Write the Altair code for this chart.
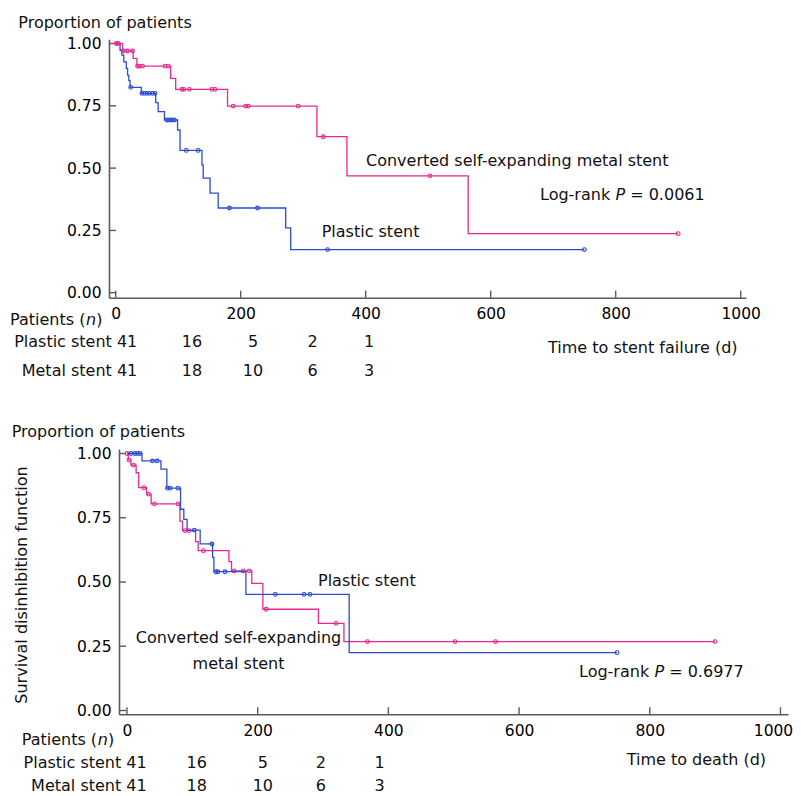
import altair as alt
import pandas as pd
import numpy as np

# ---------------- data ----------------
# Top panel: time to stent failure
ps_fail_t = [0, 7, 10, 13, 17, 19, 21, 23, 41, 64, 68, 78, 99, 103, 138, 140, 151, 164, 272, 280]
ps_fail_s = [1.0, 0.973, 0.953, 0.926, 0.900, 0.873, 0.851, 0.824, 0.800, 0.763, 0.727, 0.693,
             0.653, 0.571, 0.513, 0.460, 0.400, 0.340, 0.260, 0.173]
ps_fail_cens = [24, 42, 46, 50, 54, 59, 63, 82, 86, 90, 94, 113, 132, 182, 227, 339, 750]

ms_fail_t = [0, 11, 28, 34, 88, 96, 179, 322, 370, 564]
ms_fail_s = [1.0, 0.970, 0.940, 0.909, 0.860, 0.816, 0.749, 0.626, 0.469, 0.237]
ms_fail_cens = [1, 4, 12, 19, 27, 35, 38, 43, 79, 84, 106, 109, 118, 154, 159, 188, 208, 212,
                292, 332, 503, 900]

# Bottom panel: time to death
ps_death_t = [0, 23, 52, 61, 82, 87, 92, 112, 131, 133, 182, 340]
ps_death_s = [1.0, 0.971, 0.939, 0.865, 0.783, 0.744, 0.702, 0.648, 0.596, 0.540, 0.452, 0.225]
ps_death_cens = [6, 12, 16, 20, 39, 46, 62, 66, 78, 103, 130, 136, 139, 150, 227, 271, 280, 750]

ms_death_t = [0, 2, 6, 14, 18, 30, 37, 81, 85, 105, 109, 156, 160, 191, 208, 293, 332]
ms_death_s = [1.0, 0.975, 0.955, 0.925, 0.867, 0.842, 0.804, 0.737, 0.700, 0.657, 0.622, 0.579,
              0.543, 0.495, 0.394, 0.339, 0.268]
ms_death_cens = [0, 3, 10, 26, 33, 42, 78, 89, 95, 117, 164, 178, 187, 213, 320, 368, 502, 564, 900]

risk_plastic_fail = [41, 16, 5, 2, 1]
risk_metal_fail = [41, 18, 10, 6, 3]
risk_plastic_death = [41, 16, 5, 2, 1]
risk_metal_death = [41, 18, 10, 6, 3]

x_ticks = [0, 200, 400, 600, 800, 1000]
y_ticks = [0.0, 0.25, 0.5, 0.75, 1.0]

# ---------------- styling / layout ----------------
BLUE = "#2a4bd7"
PINK = "#e8288c"
AXC = "#5a5a5a"
FONT = "DejaVu Sans"
FS = 16
W, H = 785, 788

top_x = alt.Scale(domain=[-10.7, 1008.5], range=[101, 738], nice=False, zero=False)
top_y = alt.Scale(domain=[-0.02, 1.0169], range=[289.7, 31.3], nice=False, zero=False)
bot_x = alt.Scale(domain=[-12.2, 1011.5], range=[111, 780], nice=False, zero=False)
bot_y = alt.Scale(domain=[-0.0148, 1.0175], range=[706.3, 441], nice=False, zero=False)


def step_df(times, surv, cens):
    return pd.DataFrame({"t": list(times) + [max(cens)], "s": list(surv) + [surv[-1]]})


def cens_df(times, surv, cens):
    idx = np.searchsorted(np.array(times), np.array(cens), side="right") - 1
    return pd.DataFrame({"t": cens, "s": np.array(surv)[idx]})


def curve(times, surv, cens, color, xs, ys):
    line = alt.Chart(step_df(times, surv, cens)).mark_line(
        interpolate="step-after", color=color, strokeWidth=1.3
    ).encode(x=alt.X("t:Q", scale=xs, axis=None), y=alt.Y("s:Q", scale=ys, axis=None))
    pts = alt.Chart(cens_df(times, surv, cens)).mark_point(
        shape="circle", filled=False, color=color, size=14, strokeWidth=1.1, opacity=1
    ).encode(x=alt.X("t:Q", scale=xs, axis=None), y=alt.Y("s:Q", scale=ys, axis=None))
    return [line, pts]


def axes(xs, ys, x_off, y_off, x_pad, last_label_shift=0):
    ax_common = dict(grid=False, title=None, ticks=False, tickSize=0, domainColor=AXC,
                     domainWidth=1.6, labelFont=FONT, labelFontSize=15.5, labelColor="#000",
                     labelOverlap=False, labelFlush=False)
    xkw = dict(ax_common)
    if last_label_shift:
        xkw["labelOffset"] = {"condition": {"test": "datum.value == 1000",
                                            "value": last_label_shift}, "value": 0}
    base = alt.Chart(pd.DataFrame({"t": [0.0], "s": [0.0]})).mark_point(opacity=0).encode(
        x=alt.X("t:Q", scale=xs, axis=alt.Axis(orient="bottom", values=x_ticks, format="d",
                                               offset=x_off, labelPadding=x_pad,
                                               labelBaseline="alphabetic", **xkw)),
        y=alt.Y("s:Q", scale=ys, axis=alt.Axis(orient="left", values=y_ticks, format=".2f",
                                               offset=y_off, labelPadding=8,
                                               labelBaseline="middle", **ax_common)),
    )
    xt = alt.Chart(pd.DataFrame({"v": x_ticks})).mark_rule(color=AXC, strokeWidth=1.4).encode(
        x=alt.X("v:Q", scale=xs, axis=None),
        y=alt.value(ys.range[0]), y2=alt.value(ys.range[0] - 7))
    yt = alt.Chart(pd.DataFrame({"v": y_ticks})).mark_rule(color=AXC, strokeWidth=1.4).encode(
        y=alt.Y("v:Q", scale=ys, axis=None),
        x=alt.value(xs.range[0]), x2=alt.value(xs.range[0] + 7))
    return [base, xt, yt]


def texts(rows, **kw):
    df = pd.DataFrame(rows, columns=["text", "px", "py"])
    style = dict(font=FONT, fontSize=FS, color="#111")
    style.update(kw)
    return alt.Chart(df).mark_text(**style).encode(
        x=alt.X("px:Q", scale=None, axis=None),
        y=alt.Y("py:Q", scale=None, axis=None),
        text="text:N")


# annotation positions (svg pixels)
top_num_x = [184, 245, 304.5, 361]
bot_num_x = [188.7, 254.8, 312.8, 371.5]
ROW2_BOT = 783

left_rows = [
    ("Proportion of patients", 10.3, 20.3),
    ("Patients (", 2, 317),
    (")", 88.2, 317),
    ("Time to stent failure (d)", 540, 345.3),
    ("Converted self-expanding metal stent", 358, 158),
    ("Log-rank", 532, 192),
    ("= 0.0061", 622.2, 192),
    ("Plastic stent", 313.7, 228.7),
    ("Proportion of patients", 3.7, 428.7),
    ("Patients (", 13.7, 737),
    (")", 99.9, 737),
    ("Time to death (d)", 618.7, 757),
    ("Plastic stent", 310, 578),
    ("Log-rank", 571, 668.7),
    ("= 0.6977", 661.2, 668.7),
]
italic_rows = [
    ("n", 78.1, 317),
    ("P", 607.5, 192),
    ("n", 89.8, 737),
    ("P", 646.5, 668.7),
]
right_rows = [
    (f"Plastic stent {risk_plastic_fail[0]}", 129.3, 339.3),
    (f"Metal stent {risk_metal_fail[0]}", 129.3, 368),
    (f"Plastic stent {risk_plastic_death[0]}", 138.7, 760),
    (f"Metal stent {risk_metal_death[0]}", 138.7, ROW2_BOT),
]
center_rows = [("Converted self-expanding", 230.5, 634.7), ("metal stent", 230.5, 661)]
for i, xx in enumerate(top_num_x):
    center_rows.append((str(risk_plastic_fail[i + 1]), xx, 339.3))
    center_rows.append((str(risk_metal_fail[i + 1]), xx, 368))
for i, xx in enumerate(bot_num_x):
    center_rows.append((str(risk_plastic_death[i + 1]), xx, 760))
    center_rows.append((str(risk_metal_death[i + 1]), xx, ROW2_BOT))
rot_rows = [("Survival disinhibition function", 18.5, 577)]

layers = []
layers += axes(top_x, top_y, 289.7 - H, -101, 20.6)
layers += axes(bot_x, bot_y, 706.3 - H, -111, 20.7, last_label_shift=-7.5)
layers += curve(ps_fail_t, ps_fail_s, ps_fail_cens, BLUE, top_x, top_y)
layers += curve(ms_fail_t, ms_fail_s, ms_fail_cens, PINK, top_x, top_y)
layers += curve(ms_death_t, ms_death_s, ms_death_cens, PINK, bot_x, bot_y)
layers += curve(ps_death_t, ps_death_s, ps_death_cens, BLUE, bot_x, bot_y)
layers.append(texts(left_rows, align="left", baseline="alphabetic"))
layers.append(texts(italic_rows, align="left", baseline="alphabetic", fontStyle="italic"))
layers.append(texts(right_rows, align="right", baseline="alphabetic"))
layers.append(texts(center_rows, align="center", baseline="alphabetic"))
layers.append(texts(rot_rows, align="center", baseline="alphabetic", angle=270))

chart = alt.layer(*layers).resolve_scale(x="independent", y="independent").properties(
    width=W, height=H, padding=0, autosize=alt.AutoSizeParams(type="none")
).configure_view(stroke=None)

chart.save("out.html", embed_options={"renderer": "svg", "actions": False})
